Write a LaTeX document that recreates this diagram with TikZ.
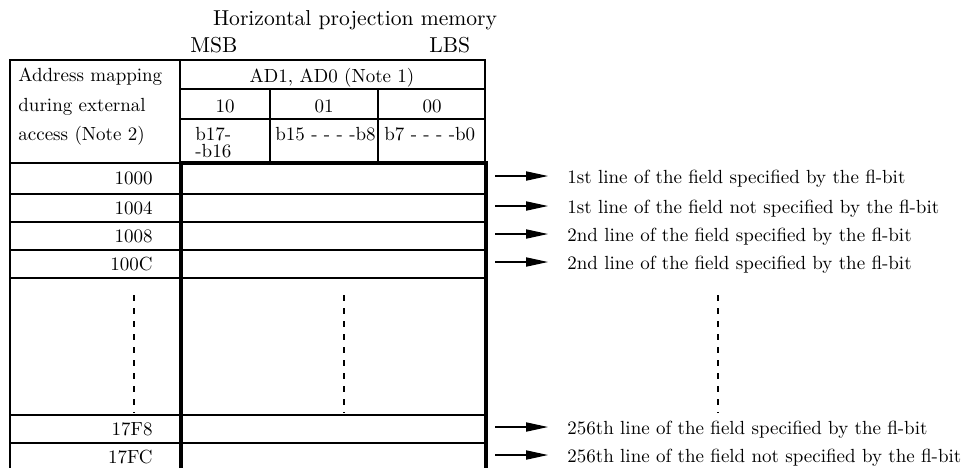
\documentclass[tikz,border=0pt]{standalone}
\usepackage{tikz}
\usetikzlibrary{arrows.meta}

\tikzset{
  thinline/.style={line width=0.6pt},
  rowline/.style={line width=1.1pt},
  memframe/.style={line width=1.7pt},
  gapline/.style={line width=0.7pt, dash pattern=on 3pt off 3.5pt},
  lbl/.style={inner sep=0pt, font=\fontsize{9.5}{11}\selectfont},
  toplbl/.style={inner sep=0pt, font=\fontsize{10.8}{13}\selectfont},
  rowarrow/.style={line width=0.6pt, -{Triangle[length=11pt,width=4.6pt]}, shorten >=9.5pt},
}

\begin{document}
\begin{tikzpicture}[x=0.5pt,y=-0.5pt]
\path[use as bounding box] (0,0) rectangle (961,468);
% titles
\node[toplbl,anchor=base] (title) at (355,25) {Horizontal projection memory};
\node[toplbl,anchor=base west] (msb) at (190,52) {MSB};
\node[toplbl,anchor=base west] (lbs) at (429,52) {LBS};
% header of the table
\draw[thinline] (10,60) rectangle (485,163);
\draw[thinline] (180,60) -- (180,163);
\draw[thinline] (180,89) -- (485,89);
\draw[thinline] (180,119) -- (485,119);
\draw[thinline] (270,89) -- (270,163);
\draw[thinline] (378,89) -- (378,163);
\node[lbl,anchor=base west] (hd1) at (18,81) {Address mapping};
\node[lbl,anchor=base west] (hd2) at (18,111) {during external};
\node[lbl,anchor=base west] (hd3) at (18,140) {access (Note 2)};
\node[lbl,anchor=base] (ad) at (332,82) {AD1, AD0 (Note 1)};
\node[lbl,anchor=base] (c10) at (225,112) {10};
\node[lbl,anchor=base] (c01) at (324,112) {01};
\node[lbl,anchor=base] (c00) at (432,112) {00};
\node[lbl,anchor=base west] (b17) at (195,140) {b17-};
\node[lbl,anchor=base west] (b16) at (195,157) {-b16};
\node[lbl,anchor=base west] (b15) at (275,140) {b15 - - - -b8};
\node[lbl,anchor=base west] (b7) at (384,140) {b7 - - - -b0};
% address column
\draw[thinline] (10,163) -- (10,468);
\foreach \y in {194,222,250,278,415,443}
  \draw[thinline] (10,\y) -- (181,\y);
% memory lines
\foreach \y in {194,222,250,278,415,443}
  \draw[rowline] (181,\y) -- (486,\y);
\draw[memframe] (181,468) -- (181,163) -- (486,163) -- (486,468);
% gaps
\draw[gapline] (134,295) -- (134,413);
\draw[gapline] (344,295) -- (344,413);
\draw[gapline] (718,295) -- (718,413);
% rows: address, text, arrow
\foreach \n/\y/\adr/\txt in {
  1/178/1000/1st line of the field specified by the fl-bit,
  2/208/1004/1st line of the field not specified by the fl-bit,
  3/236/1008/2nd line of the field specified by the fl-bit,
  4/264/100C/2nd line of the field specified by the fl-bit,
  5/429/17F8/256th line of the field specified by the fl-bit,
  6/457/17FC/256th line of the field not specified by the fl-bit}{
  \node[lbl,anchor=base east] (adr\n) at (153,\y+6) {\adr};
  \node[lbl,anchor=base west] (line\n) at (567,\y+5) {\txt};
  \coordinate (start\n) at (495,\y-2);
  \draw[rowarrow] (start\n) -- (start\n -| line\n.west);
}
\end{tikzpicture}
\end{document}
